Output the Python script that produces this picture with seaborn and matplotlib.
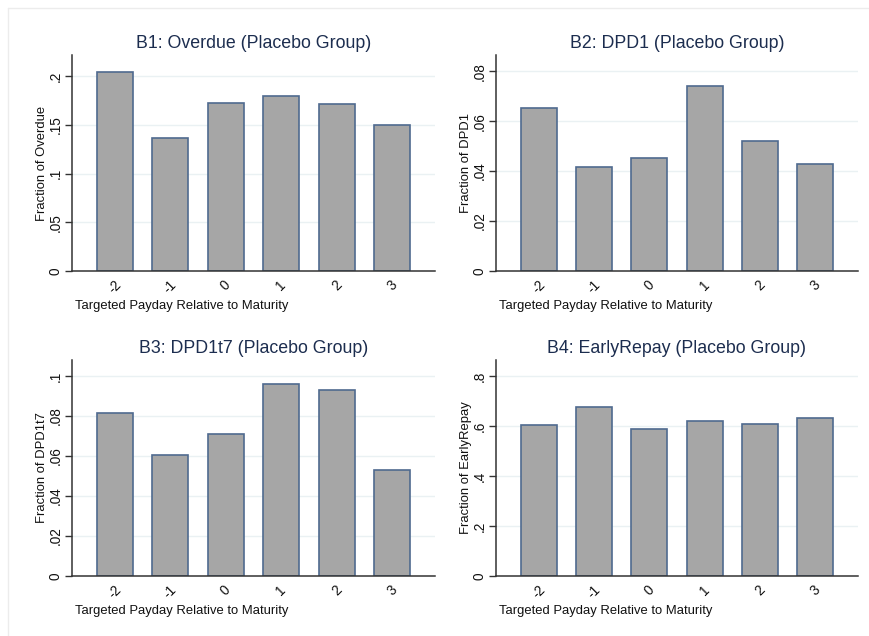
import matplotlib
matplotlib.use("Agg")
import matplotlib.pyplot as plt
import seaborn as sns
import pandas as pd
from matplotlib.lines import Line2D

sns.set_theme(style="white")
plt.rcParams["font.family"] = ["Liberation Sans", "DejaVu Sans"]

# Targeted payday relative to maturity
days = ["-2", "-1", "0", "1", "2", "3"]

overdue = [0.2044, 0.1364, 0.1723, 0.1798, 0.1710, 0.1497]
dpd1 = [0.0653, 0.0415, 0.0453, 0.0741, 0.0520, 0.0427]
dpd1t7 = [0.0816, 0.0604, 0.0711, 0.0961, 0.0930, 0.0532]
early_repay = [0.605, 0.678, 0.589, 0.621, 0.609, 0.633]

titles = ["B1: Overdue (Placebo Group)", "B2: DPD1 (Placebo Group)",
          "B3: DPD1t7 (Placebo Group)", "B4: EarlyRepay (Placebo Group)"]
ylabels = ["Fraction of Overdue", "Fraction of DPD1",
           "Fraction of DPD1t7", "Fraction of EarlyRepay"]
yticks = [[0, 0.05, 0.1, 0.15, 0.2],
          [0, 0.02, 0.04, 0.06, 0.08],
          [0, 0.02, 0.04, 0.06, 0.08, 0.1],
          [0, 0.2, 0.4, 0.6, 0.8]]
yticklabels = [["0", ".05", ".1", ".15", ".2"],
               ["0", ".02", ".04", ".06", ".08"],
               ["0", ".02", ".04", ".06", ".08", ".1"],
               ["0", ".2", ".4", ".6", ".8"]]
ymax = [0.2216, 0.0865, 0.108, 0.864]
series = [overdue, dpd1, dpd1t7, early_repay]

W, H = 870, 636
fig = plt.figure(figsize=(W / 100, H / 100), dpi=100)
fig.patch.set_facecolor("white")

# faint outer frame of the graph region (top and left edges)
y0 = 1 - 8 / H
x0 = 8 / W
fig.add_artist(Line2D([x0, 1], [y0, y0], transform=fig.transFigure,
                      color="#ececec", lw=1.0))
fig.add_artist(Line2D([x0, x0], [0, y0], transform=fig.transFigure,
                      color="#ececec", lw=1.0))

# panel boxes in pixel coordinates: left, right, top, bottom
boxes = [(72, 435, 55, 271), (496, 858, 55, 271),
         (72, 435, 360, 576), (496, 858, 360, 576)]

title_color = "#1c2d4f"
text_color = "#111111"
fs = 9.4

for i, (l, r, t, b) in enumerate(boxes):
    ax = fig.add_axes([l / W, 1 - b / H, (r - l) / W, (b - t) / H])
    df = pd.DataFrame({"day": days, "value": series[i]})
    sns.barplot(data=df, x="day", y="value", order=days, ax=ax,
                color="#a6a6a6", saturation=1, width=0.65,
                edgecolor="#4f6a8f", linewidth=1.2)
    for p in ax.patches:
        p.set_facecolor("#a6a6a6")
    ax.set_xlim(-0.77, 5.77)
    ax.set_ylim(0, ymax[i])
    ax.set_yticks(yticks[i])
    ax.set_yticklabels(yticklabels[i], rotation=90, va="center",
                       fontsize=fs + 0.4, color=text_color)
    ax.set_xticks(range(len(days)))
    ax.set_xticklabels(days, rotation=45, ha="center", va="top",
                       fontsize=fs + 0.4, color=text_color)
    for y in yticks[i][1:]:
        ax.axhline(y, color="#eaf1f3", lw=1.0, zorder=0)
    ax.set_axisbelow(True)
    ax.tick_params(axis="y", which="both", left=True, length=5, width=1,
                   color="#333333", pad=2, direction="out")
    ax.tick_params(axis="x", bottom=False, length=0, pad=5)
    for s in ["top", "right"]:
        ax.spines[s].set_visible(False)
    for s in ["left", "bottom"]:
        ax.spines[s].set_color("#333333")
        ax.spines[s].set_linewidth(1.1)
    ax.set_xlabel("")
    ax.set_ylabel(ylabels[i], fontsize=fs, color=text_color, labelpad=0)
    ax.set_title(titles[i], fontsize=12.8, color=title_color, pad=5)
    fig.text(l / W + 0.003, 1 - (b + 35) / H,
             "Targeted Payday Relative to Maturity",
             fontsize=fs, color=text_color, ha="left", va="center")
    ax.patch.set_alpha(0)

fig.savefig("out.png", dpi=100, facecolor="white")
